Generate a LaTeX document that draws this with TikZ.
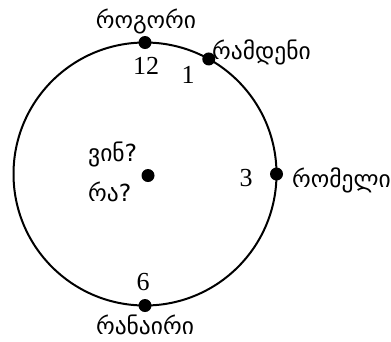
\documentclass[tikz,border=0pt]{standalone}
\usepackage{fontspec}
\setmainfont{Liberation Serif}
\newfontfamily\geo[Script=Georgian]{DejaVu Sans}
\begin{document}
\begin{tikzpicture}[x=1pt,y=-1pt,
  ring/.style={circle,draw,line width=2pt,minimum size=263pt,inner sep=0pt,outer sep=0pt},
  dot/.style={circle,fill,minimum size=13pt,inner sep=0pt},
  num/.style={font=\fontsize{26}{26}\selectfont,inner sep=0pt},
  word/.style={font=\geo\fontsize{23.5}{23.5}\selectfont,inner sep=0pt}]
\useasboundingbox (0,0) rectangle (391,341);
\node[ring] (c) at (145,174) {};
\node[dot] (d12) at (c.90) {};
\node[dot] (d1) at (c.61) {};
\node[dot] (d3) at (c.0) {};
\node[dot] (d6) at (c.270) {};
\node[dot] (d0) at (148,175.5) {};
\node[num] (n12) at (146,66) {12};
\node[num] (n1) at (188,75) {1};
\node[num] (n3) at (246,178) {3};
\node[num] (n6) at (143,282) {6};
\node[word] (w12) at (146,21) {როგორი};
\node[word,anchor=west] (w1) at (212,52) {რამდენი};
\node[word,anchor=west] (w3) at (292,180) {რომელი};
\node[word,anchor=base] (w6) at (145,334.5) {რანაირი};
\node[word,anchor=west] (who) at (88,154) {ვინ?};
\node[word,anchor=west] (what) at (88,192) {რა?};
\end{tikzpicture}
\end{document}
